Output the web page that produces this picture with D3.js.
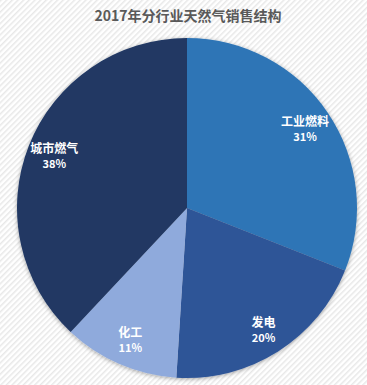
<!DOCTYPE html>
<html><head><meta charset="utf-8">
<script src="https://cdn.jsdelivr.net/npm/d3@7"></script>
<style>html,body{margin:0;padding:0;background:#fff;}svg{display:block;}</style>
</head><body>
<script>
const categories = ["工业燃料", "发电", "化工", "城市燃气"];
const values = [31, 20, 11, 38];
const colors = ["#2E75B6", "#2F5597", "#8FAADC", "#203864"];
const title = "2017年分行业天然气销售结构";

const W = 367, H = 385, cx = 187, cy = 208, R = 170;
const svg = d3.select("body").append("svg").attr("width", W).attr("height", H);
const defs = svg.append("defs");
const pat = defs.append("pattern").attr("id", "stripes").attr("patternUnits", "userSpaceOnUse")
  .attr("width", 4).attr("height", 4).attr("patternTransform", "rotate(45)");
pat.append("rect").attr("width", 4).attr("height", 4).attr("fill", "#ffffff");
pat.append("rect").attr("width", 1.5).attr("height", 4).attr("fill", "#e8e8e8");
const f = defs.append("filter").attr("id", "sh").attr("x", "-10%").attr("y", "-10%").attr("width", "120%").attr("height", "120%");
f.append("feDropShadow").attr("dx", 0).attr("dy", 1).attr("stdDeviation", 2).attr("flood-color", "#000").attr("flood-opacity", 0.35);

svg.append("rect").attr("width", W).attr("height", H).attr("fill", "url(#stripes)");

svg.append("text").attr("x", 188).attr("y", 21).attr("text-anchor", "middle")
  .attr("font-family", "'Noto Sans CJK SC', sans-serif").attr("font-weight", "bold")
  .attr("font-size", 14).attr("fill", "#595959").text(title);

const data = categories.map((c, i) => ({c, v: values[i], col: colors[i]}));
const pie = d3.pie().value(d => d.v).sort(null);
const arc = d3.arc().innerRadius(0).outerRadius(R);
const labelArc = d3.arc().innerRadius(R * 0.84).outerRadius(R * 0.84);
const g = svg.append("g").attr("transform", `translate(${cx},${cy})`);
const arcs = pie(data);
g.append("g").attr("filter", "url(#sh)").selectAll("path").data(arcs).join("path")
  .attr("d", arc).attr("fill", d => d.data.col);

const lab = g.selectAll("g.lab").data(arcs).join("g").attr("class", "lab")
  .attr("transform", d => `translate(${labelArc.centroid(d)})`);
lab.append("text").attr("text-anchor", "middle").attr("y", -2)
  .attr("font-family", "'Noto Sans CJK SC', sans-serif").attr("font-weight", "bold")
  .attr("font-size", 12).attr("fill", "#fff").text(d => d.data.c);
lab.append("text").attr("text-anchor", "middle").attr("y", 13)
  .attr("font-family", "'Noto Sans CJK SC', sans-serif").attr("font-weight", "bold")
  .attr("font-size", 11).attr("fill", "#fff").text(d => d.data.v + "%");
</script>
</body></html>
